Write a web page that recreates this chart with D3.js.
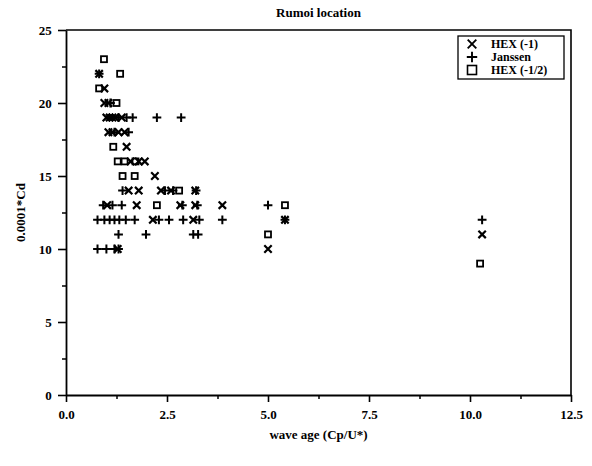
<!DOCTYPE html>
<html>
<head>
<meta charset="utf-8">
<script src="https://cdn.jsdelivr.net/npm/d3@7"></script>
<style>
  body { margin: 0; background: #fff; }
  svg { display: block; }
</style>
</head>
<body>
<script>
// HEX (-1) drag estimates, [wave age, 0.0001*Cd]
const hexMinus1 = [
  [0.82, 22], [0.95, 21], [0.95, 20], [1.05, 20], [1.0, 19], [1.08, 19], [1.15, 19],
  [1.22, 19], [1.38, 19], [1.05, 18], [1.15, 18], [1.3, 18], [1.45, 18], [1.5, 17],
  [1.6, 16], [1.8, 16], [1.95, 16], [2.2, 15], [1.55, 14], [1.8, 14], [2.35, 14],
  [2.6, 14], [3.2, 14], [1.02, 13], [1.75, 13], [2.83, 13], [3.2, 13], [3.87, 13],
  [2.15, 12], [3.15, 12], [5.42, 12], [10.3, 11], [1.28, 10], [5.0, 10]
];
// Janssen
const janssen = [
  [0.82, 22], [1.1, 20], [1.3, 19], [1.5, 19], [1.65, 19], [2.25, 19], [2.85, 19],
  [1.2, 18], [1.55, 18], [1.4, 14], [2.45, 14], [2.65, 14], [3.22, 14], [0.92, 13],
  [1.15, 13], [1.38, 13], [2.88, 13], [3.25, 13], [5.0, 13], [0.78, 12], [0.95, 12],
  [1.08, 12], [1.2, 12], [1.32, 12], [1.48, 12], [1.7, 12], [2.3, 12], [2.55, 12],
  [2.9, 12], [3.3, 12], [3.87, 12], [5.42, 12], [10.3, 12], [1.3, 11], [1.98, 11],
  [3.15, 11], [3.27, 11], [0.78, 10], [1.0, 10], [1.2, 10], [1.3, 10]
];
// HEX (-1/2)
const hexMinusHalf = [
  [0.94, 23], [1.34, 22], [0.82, 21], [1.25, 20], [1.17, 17], [1.28, 16], [1.45, 16],
  [1.72, 16], [1.4, 15], [1.7, 15], [2.8, 14], [2.25, 13], [5.42, 13], [5.0, 11],
  [10.25, 9]
];
const xMajor = [0, 2.5, 5, 7.5, 10, 12.5];
const yMajor = [0, 5, 10, 15, 20, 25];
const legendItems = ["HEX (-1)", "Janssen", "HEX (-1/2)"];

const width = 592, height = 466;
const margin = {top: 30, right: 21, bottom: 71, left: 66};
const font = "'Liberation Serif', 'Times New Roman', serif";

const svg = d3.select("body").append("svg")
  .attr("width", width)
  .attr("height", height)
  .style("font-family", font);

const x = d3.scaleLinear().domain([0, 12.5]).range([margin.left, width - margin.right]);
const y = d3.scaleLinear().domain([0, 25]).range([height - margin.bottom, margin.top]);

// frame (top + right)
svg.append("path")
  .attr("d", `M${x(0)},${y(25)}H${x(12.5)}V${y(0)}`)
  .attr("fill", "none")
  .attr("stroke", "#000")
  .attr("stroke-width", 1.6);

// minor ticks
svg.append("g")
  .attr("transform", `translate(0,${y(0)})`)
  .call(d3.axisBottom(x).tickValues(d3.range(1.25, 12.5, 2.5)).tickSize(4).tickFormat(""))
  .call(g => g.select(".domain").remove())
  .selectAll("line").attr("stroke-width", 1.5);
svg.append("g")
  .attr("transform", `translate(${x(0)},0)`)
  .call(d3.axisLeft(y).tickValues(d3.range(2.5, 25, 5)).tickSize(4).tickFormat(""))
  .call(g => g.select(".domain").remove())
  .selectAll("line").attr("stroke-width", 1.5);

// major axes
const xAxis = svg.append("g")
  .attr("transform", `translate(0,${y(0)})`)
  .call(d3.axisBottom(x).tickValues(xMajor).tickSize(7).tickSizeOuter(0).tickFormat(d3.format(".1f")));
const yAxis = svg.append("g")
  .attr("transform", `translate(${x(0)},0)`)
  .call(d3.axisLeft(y).tickValues(yMajor).tickSize(8).tickSizeOuter(0).tickFormat(d3.format("d")));

[xAxis, yAxis].forEach(g => {
  g.select(".domain").attr("stroke-width", 1.8);
  g.selectAll(".tick line").attr("stroke-width", 1.6);
  g.selectAll("text")
    .style("font-family", font)
    .style("font-weight", "bold")
    .style("font-size", "13px")
    .attr("fill", "#000");
});
xAxis.selectAll("text").attr("dy", "1.05em");
yAxis.selectAll("text").attr("dx", "-0.25em");

// markers
const cross = s => `M${-s},${-s}L${s},${s}M${-s},${s}L${s},${-s}`;
const plus = s => `M${-s},0H${s}M0,${-s}V${s}`;

const marks = svg.append("g").attr("stroke", "#000").attr("fill", "none");

marks.append("g").selectAll("path")
  .data(hexMinus1)
  .join("path")
  .attr("transform", d => `translate(${x(d[0])},${y(d[1])})`)
  .attr("d", cross(3.7))
  .attr("stroke-width", 2.2);

marks.append("g").selectAll("path")
  .data(janssen)
  .join("path")
  .attr("transform", d => `translate(${x(d[0])},${y(d[1])})`)
  .attr("d", plus(4.4))
  .attr("stroke-width", 2);

marks.append("g").selectAll("rect")
  .data(hexMinusHalf)
  .join("rect")
  .attr("x", d => x(d[0]) - 3)
  .attr("y", d => y(d[1]) - 3)
  .attr("width", 6)
  .attr("height", 6)
  .attr("stroke-width", 1.8);

// legend
const legend = svg.append("g").attr("transform", "translate(458,36)");
legend.append("rect")
  .attr("width", 106)
  .attr("height", 43)
  .attr("fill", "#fff")
  .attr("stroke", "#000")
  .attr("stroke-width", 1.3);
const symbols = [
  g => g.append("path").attr("d", cross(4.3)).attr("stroke", "#000").attr("stroke-width", 1.9),
  g => g.append("path").attr("d", plus(5.2)).attr("stroke", "#000").attr("stroke-width", 1.9),
  g => g.append("rect").attr("x", -4.5).attr("y", -4.5).attr("width", 9).attr("height", 9)
        .attr("fill", "none").attr("stroke", "#000").attr("stroke-width", 1.6)
];
legendItems.forEach((name, i) => {
  const row = legend.append("g").attr("transform", `translate(0,${8 + i * 13})`);
  symbols[i](row.append("g").attr("transform", "translate(14,0)"));
  row.append("text")
    .attr("x", 33)
    .attr("y", 4)
    .style("font-weight", "bold")
    .style("font-size", "12px")
    .text(name);
});

// title & axis labels
svg.append("text")
  .attr("x", (x(0) + x(12.5)) / 2)
  .attr("y", 17)
  .attr("text-anchor", "middle")
  .style("font-weight", "bold")
  .style("font-size", "13px")
  .text("Rumoi location");

svg.append("text")
  .attr("x", (x(0) + x(12.5)) / 2)
  .attr("y", 439)
  .attr("text-anchor", "middle")
  .style("font-weight", "bold")
  .style("font-size", "13px")
  .text("wave age (Cp/U*)");

svg.append("text")
  .attr("transform", `translate(25,${y(12.5)}) rotate(-90)`)
  .attr("text-anchor", "middle")
  .style("font-weight", "bold")
  .style("font-size", "13px")
  .text("0.0001*Cd");
</script>
</body>
</html>
